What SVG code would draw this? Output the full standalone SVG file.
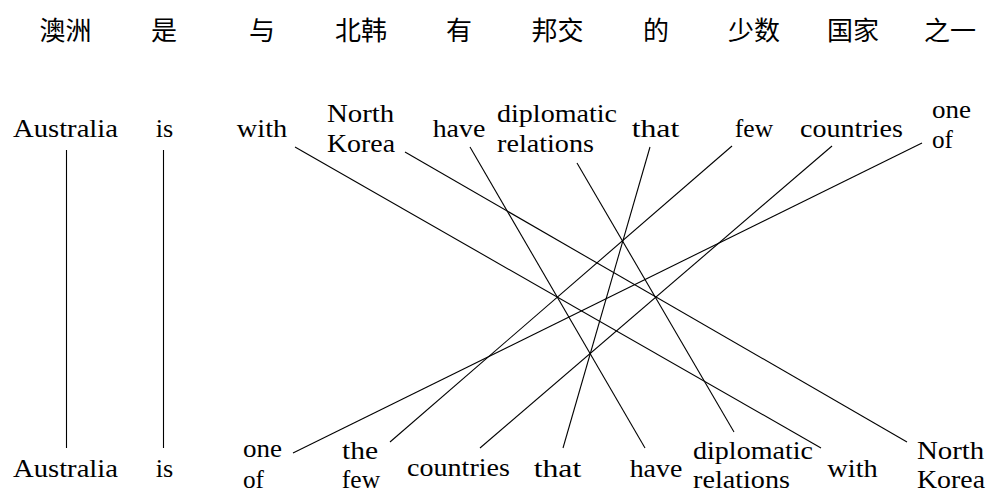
<svg xmlns="http://www.w3.org/2000/svg" width="987" height="494" viewBox="0 0 987 494">
<style>
.zh{font-family:"Noto Sans CJK SC","Noto Sans CJK TC",sans-serif;font-size:26px;fill:#000;text-anchor:middle}
.en{font-family:"Liberation Serif","Times New Roman",serif;font-size:26px;fill:#000;text-anchor:middle}
.ln{stroke:#000;stroke-width:1.1;fill:none}
</style>
<rect width="987" height="494" fill="#fff"/>
<g id="chinese">
<text class="zh" x="65.5" y="40">澳洲</text>
<text class="zh" x="164" y="40">是</text>
<text class="zh" x="262" y="40">与</text>
<text class="zh" x="361" y="40">北韩</text>
<text class="zh" x="459" y="40">有</text>
<text class="zh" x="557.5" y="40">邦交</text>
<text class="zh" x="656" y="40">的</text>
<text class="zh" x="754" y="40">少数</text>
<text class="zh" x="853" y="40">国家</text>
<text class="zh" x="950" y="40">之一</text>
</g>
<g id="top-Australia"><text class="en" x="65.5" y="137" textLength="105" lengthAdjust="spacingAndGlyphs">Australia</text></g>
<g id="top-is"><text class="en" x="164.5" y="137" textLength="17.5" lengthAdjust="spacingAndGlyphs">is</text></g>
<g id="top-with"><text class="en" x="262" y="137" textLength="50.5" lengthAdjust="spacingAndGlyphs">with</text></g>
<g id="top-NorthKorea"><text class="en" x="360.6" y="122" textLength="67.3" lengthAdjust="spacingAndGlyphs">North</text><text class="en" x="361" y="152" textLength="68" lengthAdjust="spacingAndGlyphs">Korea</text></g>
<g id="top-have"><text class="en" x="459" y="137" textLength="52.7" lengthAdjust="spacingAndGlyphs">have</text></g>
<g id="top-diplomatic"><text class="en" x="557" y="122" textLength="120" lengthAdjust="spacingAndGlyphs">diplomatic</text><text class="en" x="545.5" y="152" textLength="97" lengthAdjust="spacingAndGlyphs">relations</text></g>
<g id="top-that"><text class="en" x="655.5" y="137" textLength="47.7" lengthAdjust="spacingAndGlyphs">that</text></g>
<g id="top-few"><text class="en" x="754" y="137" textLength="38.3" lengthAdjust="spacingAndGlyphs">few</text></g>
<g id="top-countries"><text class="en" x="851.5" y="137" textLength="102.8" lengthAdjust="spacingAndGlyphs">countries</text></g>
<g id="top-oneof"><text class="en" x="951.5" y="118" textLength="39" lengthAdjust="spacingAndGlyphs">one</text><text class="en" x="942.5" y="148" textLength="21" lengthAdjust="spacingAndGlyphs">of</text></g>
<g id="bot-Australia"><text class="en" x="65.5" y="477" textLength="105" lengthAdjust="spacingAndGlyphs">Australia</text></g>
<g id="bot-is"><text class="en" x="164.5" y="477" textLength="17.5" lengthAdjust="spacingAndGlyphs">is</text></g>
<g id="bot-oneof"><text class="en" x="262.5" y="457" textLength="39" lengthAdjust="spacingAndGlyphs">one</text><text class="en" x="253.5" y="487.5" textLength="21" lengthAdjust="spacingAndGlyphs">of</text></g>
<g id="bot-thefew"><text class="en" x="360" y="459" textLength="36.1" lengthAdjust="spacingAndGlyphs">the</text><text class="en" x="361" y="488" textLength="38.3" lengthAdjust="spacingAndGlyphs">few</text></g>
<g id="bot-countries"><text class="en" x="458.5" y="476" textLength="102.8" lengthAdjust="spacingAndGlyphs">countries</text></g>
<g id="bot-that"><text class="en" x="557.5" y="477" textLength="47.7" lengthAdjust="spacingAndGlyphs">that</text></g>
<g id="bot-have"><text class="en" x="656" y="477" textLength="52.7" lengthAdjust="spacingAndGlyphs">have</text></g>
<g id="bot-diplomatic"><text class="en" x="753" y="459" textLength="120" lengthAdjust="spacingAndGlyphs">diplomatic</text><text class="en" x="741.5" y="488" textLength="97" lengthAdjust="spacingAndGlyphs">relations</text></g>
<g id="bot-with"><text class="en" x="852.5" y="477" textLength="50.5" lengthAdjust="spacingAndGlyphs">with</text></g>
<g id="bot-NorthKorea"><text class="en" x="950.6" y="459" textLength="67.3" lengthAdjust="spacingAndGlyphs">North</text><text class="en" x="951" y="488" textLength="68" lengthAdjust="spacingAndGlyphs">Korea</text></g>
<g id="connectors">
<line class="ln" x1="66.5" y1="150" x2="66.5" y2="448"/>
<line class="ln" x1="163.5" y1="150" x2="163.5" y2="448"/>
<line class="ln" x1="295" y1="147" x2="821" y2="448"/>
<line class="ln" x1="405" y1="152" x2="907" y2="442"/>
<line class="ln" x1="470" y1="147" x2="645" y2="448"/>
<line class="ln" x1="577" y1="163" x2="734" y2="432"/>
<line class="ln" x1="650" y1="147" x2="563" y2="448"/>
<line class="ln" x1="732" y1="146" x2="390" y2="442"/>
<line class="ln" x1="832" y1="146" x2="480" y2="448"/>
<line class="ln" x1="922" y1="143" x2="293" y2="453"/>
</g>
</svg>
